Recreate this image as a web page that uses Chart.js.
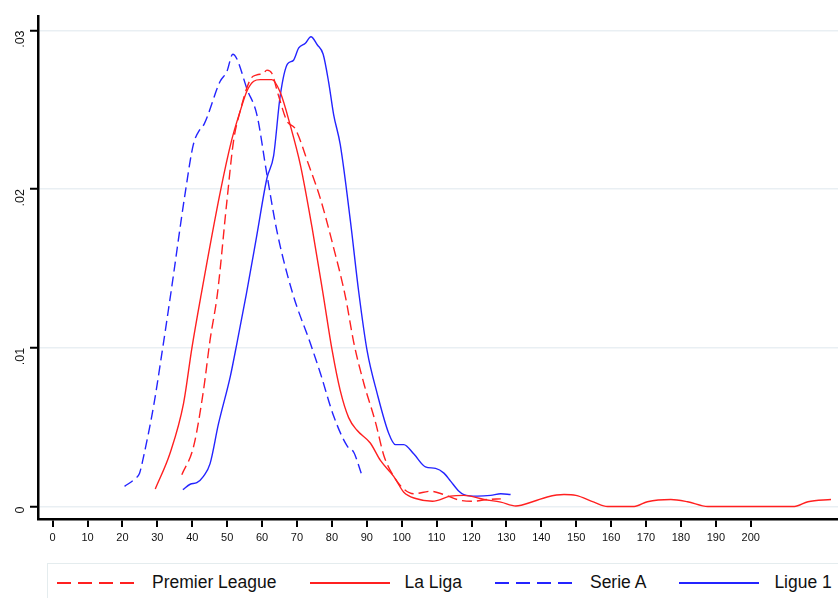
<!DOCTYPE html>
<html>
<head>
<meta charset="utf-8">
<script src="https://cdn.jsdelivr.net/npm/chart.js@4"></script>
<style>
  body { margin: 0; background: #fff; font-family: "Liberation Sans", Arial, sans-serif; }
  #wrap { position: relative; width: 838px; height: 598px; overflow: hidden; }
  #grafico { position: absolute; left: 0; top: 0; }
  #legenda { position: absolute; left: 47px; top: 563px; width: 820px; height: 50px;
    border: 1px solid #e4ecee; box-sizing: border-box; display: flex; align-items: flex-start;
    padding: 8px 0 0 9px; }
  .item { display: flex; align-items: center; flex-shrink: 0; white-space: nowrap;
    margin-right: 33px; font-size: 17.5px; color: #111; }
  .item svg { margin-right: 15px; flex-shrink: 0; }
</style>
</head>
<body>
<div id="wrap">
  <canvas id="grafico" width="838" height="560"></canvas>
  <div id="legenda"></div>
</div>
<script>
// Densidades por liga (x, densidade)
let premierX = [37, 40.4, 43.2, 45.1, 47.2, 49.9, 51.8, 53.7, 56.6, 58.5, 60.4, 61.4, 62.8, 64.7, 67.1, 69.5, 73.4, 76.7, 80.5, 83.9, 86.3, 89.1, 92.5, 94.9, 97.7, 100.6, 103.5, 108.3, 112.1, 116.9, 120.7, 124.5, 128.4];
let premierY = [0.0020, 0.0038, 0.0073, 0.0105, 0.0134, 0.0192, 0.0230, 0.0249, 0.0269, 0.0272, 0.0273, 0.0275, 0.0273, 0.0259, 0.0243, 0.0238, 0.0215, 0.0194, 0.0163, 0.0132, 0.0103, 0.0078, 0.0053, 0.0032, 0.0019, 0.0011, 0.0008, 0.00096, 0.00075, 0.00038, 0.00033, 0.00044, 0.00048];

let laLigaX = [29.4, 33.7, 37.5, 39.9, 42.5, 48, 51.3, 53.7, 55.7, 57.6, 59.5, 62.8, 65.2, 68.1, 71, 74.3, 77.4, 80.1, 82.4, 84.8, 87.2, 91, 93.9, 97.7, 100.6, 104, 108.8, 114, 117.8, 123.6, 128.4, 132.7, 137.9, 141.7, 146.5, 149.9, 155.1, 159, 166.6, 170.4, 177.1, 181.9, 187.7, 212.5, 216.4, 223];
let laLigaY = [0.0011, 0.0034, 0.0065, 0.0100, 0.0133, 0.0198, 0.0231, 0.0249, 0.0262, 0.0268, 0.0269, 0.0269, 0.0261, 0.0240, 0.0215, 0.0176, 0.0135, 0.0098, 0.0073, 0.0056, 0.0048, 0.0040, 0.0029, 0.0019, 0.0009, 0.0005, 0.00033, 0.00065, 0.0007, 0.00044, 0.00027, 0.00003, 0.00033, 0.0006, 0.00075, 0.0007, 0.00027, 0.0, 0.0, 0.0003, 0.00044, 0.0003, 0.0, 0.0, 0.0003, 0.00044];

let serieAX = [20.6, 23.6, 24.9, 26, 28.9, 31.4, 33.9, 38, 40.3, 42.3, 43.4, 48, 49.9, 51.6, 52.8, 55.7, 58.5, 61.4, 64.3, 68.8, 73.8, 76.7, 80.5, 84.4, 86.3, 88.4];
let serieAY = [0.00127, 0.00175, 0.0021, 0.0031, 0.0063, 0.0098, 0.0135, 0.0198, 0.0228, 0.0238, 0.0241, 0.0268, 0.0274, 0.0285, 0.0282, 0.0263, 0.0247, 0.0209, 0.0173, 0.0134, 0.0103, 0.0084, 0.0057, 0.0038, 0.0034, 0.0021];

let ligue1X = [37.3, 39.4, 41.3, 43.2, 45.1, 47.5, 50.9, 52.8, 55.5, 58.5, 61.4, 63.3, 65.2, 67.3, 68.9, 70.5, 72.4, 74, 75.8, 77.5, 79.1, 80.5, 82.4, 85.3, 87.7, 90.1, 93, 96.3, 98.2, 100.6, 103.5, 106.8, 109.7, 112.1, 114, 116.4, 117.8, 121.7, 125.5, 128.4, 131.2];
let ligue1Y = [0.00106, 0.0014, 0.0015, 0.0019, 0.0027, 0.0052, 0.0082, 0.0103, 0.0134, 0.0171, 0.0207, 0.0221, 0.0259, 0.0279, 0.0281, 0.0289, 0.0292, 0.0296, 0.0291, 0.0285, 0.0267, 0.0247, 0.0228, 0.0180, 0.0135, 0.0098, 0.0071, 0.0046, 0.0039, 0.0039, 0.0033, 0.0025, 0.0024, 0.0021, 0.0016, 0.00096, 0.00075, 0.00065, 0.0007, 0.0008, 0.00075];

let ticksX = [0, 10, 20, 30, 40, 50, 60, 70, 80, 90, 100, 110, 120, 130, 140, 150, 160, 170, 180, 190, 200];
let ticksY = [0, 0.01, 0.02, 0.03];

const vermelho = "rgb(255,32,32)";
const azul = "rgb(36,36,255)";

function pontos(xs, ys) {
    return xs.map((x, i) => ({ x: x, y: ys[i] }));
}

function serie(label, xs, ys, cor, tracejado) {
    return {
        label: label,
        data: pontos(xs, ys),
        borderColor: cor,
        backgroundColor: cor,
        borderWidth: 1.4,
        borderDash: tracejado ? [10, 5] : [],
        pointRadius: 0,
        fill: false,
        tension: 0.4,
        cubicInterpolationMode: "monotone"
    };
}

let dadosLigas = {
    datasets: [
        serie("Premier League", premierX, premierY, vermelho, true),
        serie("La Liga", laLigaX, laLigaY, vermelho, false),
        serie("Serie A", serieAX, serieAY, azul, true),
        serie("Ligue 1", ligue1X, ligue1Y, azul, false)
    ]
};

const configLigas = {
    type: "line",
    data: dadosLigas,
    options: {
        responsive: false,
        animation: false,
        layout: { padding: { top: 14, right: 0, left: 0, bottom: 0 } },
        plugins: {
            legend: { display: false },
            tooltip: { enabled: false }
        },
        scales: {
            x: {
                type: "linear",
                min: -4.2,
                max: 225,
                afterBuildTicks: s => { s.ticks = ticksX.map(v => ({ value: v })); },
                afterFit: s => { s.height = 41; },
                grid: { drawOnChartArea: false, color: "#000", tickLength: 8, lineWidth: 2 },
                border: { display: true, color: "#000", width: 2.5 },
                ticks: {
                    color: "#111",
                    font: { family: "'Liberation Sans', Arial, sans-serif", size: 11 },
                    padding: 4,
                    maxRotation: 0,
                    autoSkip: false
                }
            },
            y: {
                min: -0.00079,
                max: 0.03088,
                afterBuildTicks: s => { s.ticks = ticksY.map(v => ({ value: v })); },
                afterFit: s => { s.width = 38; },
                grid: { color: "#e9eff3", lineWidth: 1.5, tickColor: "#000", tickWidth: 2, tickLength: 8 },
                border: { display: true, color: "#000", width: 2.5 },
                ticks: {
                    color: "#111",
                    font: { family: "'Liberation Sans', Arial, sans-serif", size: 12.5 },
                    minRotation: 90,
                    maxRotation: 90,
                    padding: 9,
                    callback: v => v === 0 ? "0" : v.toFixed(2).replace(/^0/, "")
                }
            }
        }
    }
};

let myChartLigas = new Chart(document.getElementById("grafico"), configLigas);

// Legenda em HTML
const legenda = document.getElementById("legenda");
dadosLigas.datasets.forEach(ds => {
    const item = document.createElement("div");
    item.className = "item";
    const dash = ds.borderDash.length ? 'stroke-dasharray="14,7"' : "";
    item.innerHTML = `<svg width="80" height="6"><line x1="0" y1="3" x2="80" y2="3" stroke="${ds.borderColor}" stroke-width="2" ${dash}/></svg><span>${ds.label}</span>`;
    legenda.appendChild(item);
});
</script>
</body>
</html>
